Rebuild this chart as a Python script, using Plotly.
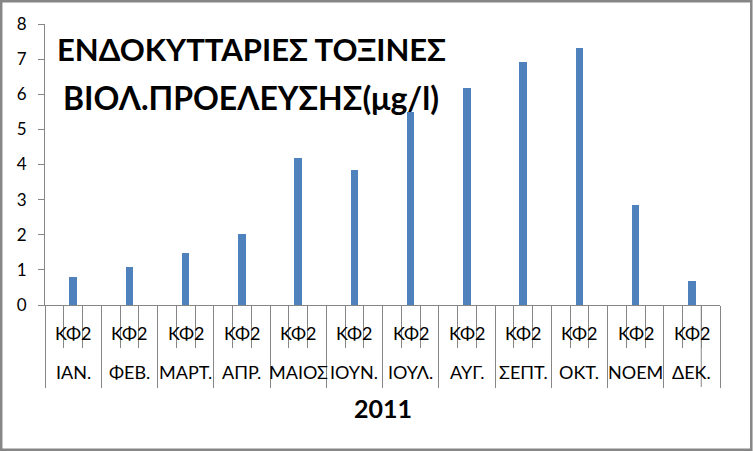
import plotly.graph_objects as go

months = ["ΙΑΝ.", "ΦΕΒ.", "ΜΑΡΤ.", "ΑΠΡ.", "ΜΑΙΟΣ", "ΙΟΥΝ.", "ΙΟΥΛ.", "ΑΥΓ.", "ΣΕΠΤ.", "ΟΚΤ.", "ΝΟΕΜ", "ΔΕΚ."]
sub_labels = ["", "ΚΦ2", ""]
values = [0.81, 1.09, 1.49, 2.03, 4.19, 3.85, 5.50, 6.18, 6.92, 7.32, 2.86, 0.67]
year_label = "2011"
title_lines = ["ΕΝΔΟΚΥΤΤΑΡΙΕΣ ΤΟΞΙΝΕΣ", "ΒΙΟΛ.ΠΡΟΕΛΕΥΣΗΣ(μg/l)"]
y_ticks = list(range(0, 9))

W, H = 753, 451
L, R, T, B = 45, 33, 24, 146
PW, PH = W - L - R, H - T - B
FONT = "Lato, 'Open Sans', sans-serif"
GRAY = "#868686"

nsub = len(sub_labels)
bar_x = [i * nsub + sub_labels.index("ΚΦ2") + 0.5 for i in range(len(months))]

fig = go.Figure()
fig.add_trace(go.Bar(x=bar_x, y=values, width=0.4, marker=dict(color="#4F81BD", line=dict(width=0)),
                     showlegend=False))

def px_x(p):
    return (p - L) / PW

def px_y(q):
    return (H - B - q) / PH

annotations = []
for i, m in enumerate(months):
    for j, s in enumerate(sub_labels):
        if s:
            annotations.append(dict(x=i * nsub + j + 0.5, xref="x", y=0, yref="paper", yanchor="middle",
                                    yshift=-28, text=s, showarrow=False,
                                    font=dict(family=FONT, size=18, color="#000")))
    annotations.append(dict(x=i * nsub + nsub / 2, xref="x", y=0, yref="paper", yanchor="middle",
                            yshift=-67, text=m, showarrow=False,
                            font=dict(family=FONT, size=18, color="#000")))
annotations.append(dict(x=0.5, xref="paper", y=0, yref="paper", yanchor="middle", yshift=-103,
                        text="<b>%s</b>" % year_label, showarrow=False,
                        font=dict(family=FONT, size=25, color="#000")))
for line, yc, fs in zip(title_lines, [49, 97], [31, 32]):
    annotations.append(dict(x=px_x(251), xref="paper", y=px_y(yc), yref="paper", yanchor="middle",
                            xanchor="center", text="<b>%s</b>" % line,
                            showarrow=False, font=dict(family=FONT, size=fs, color="#000")))

shapes = [
    dict(type="rect", xref="paper", yref="paper", x0=px_x(1.2), x1=px_x(751.3), y0=px_y(1.2), y1=px_y(449.8),
         line=dict(color=GRAY, width=2.5), layer="above"),
    dict(type="line", xref="x", yref="paper", x0=len(months) * nsub - 1, x1=len(months) * nsub - 1,
         y0=0, y1=px_y(387), line=dict(color=GRAY, width=1)),
]

fig.update_layout(
    width=W, height=H,
    margin=dict(l=L, r=R, t=T, b=B, pad=0),
    paper_bgcolor="white", plot_bgcolor="white",
    bargap=0,
    annotations=annotations, shapes=shapes,
    xaxis=dict(range=[0, len(months) * nsub], showgrid=False, zeroline=False,
               showline=True, linecolor=GRAY, linewidth=1,
               tickmode="linear", tick0=0, dtick=nsub, ticks="outside", ticklen=82, tickcolor=GRAY, tickwidth=1,
               showticklabels=False,
               minor=dict(tickmode="linear", tick0=0, dtick=1, ticks="outside", ticklen=42, tickcolor=GRAY,
                          tickwidth=1, showgrid=False)),
    yaxis=dict(range=[0, 8], tickvals=y_ticks, showgrid=False, zeroline=False,
               showline=True, linecolor=GRAY, linewidth=1,
               ticks="outside", ticklen=6, tickcolor=GRAY, tickwidth=1, ticklabelstandoff=8,
               tickfont=dict(family=FONT, size=17, color="#000")),
)

fig.write_html("out.html", config=dict(displayModeBar=False),
               post_script="document.body.style.margin='0';document.body.style.overflow='hidden';")
